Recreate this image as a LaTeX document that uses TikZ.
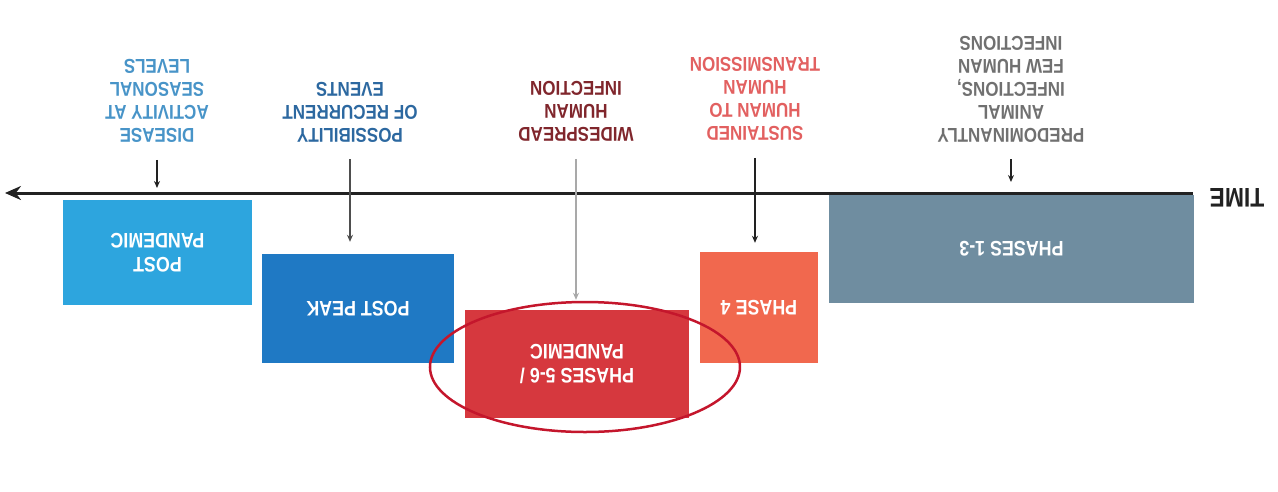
\documentclass[tikz,border=0pt]{standalone}
\usepackage{fontspec}
\newfontfamily\lblfont{Liberation Sans}[FakeStretch=0.85]
\usetikzlibrary{arrows.meta}
\definecolor{colEarly}{RGB}{111,141,160}
\definecolor{colFour}{RGB}{241,104,78}
\definecolor{colPandemic}{RGB}{214,56,62}
\definecolor{colPeak}{RGB}{31,121,196}
\definecolor{colPost}{RGB}{45,165,222}
\definecolor{colRing}{RGB}{196,22,44}
\definecolor{colTxtGrey}{RGB}{112,112,112}
\definecolor{colTxtSalmon}{RGB}{226,96,96}
\definecolor{colTxtMaroon}{RGB}{128,38,44}
\definecolor{colTxtBlue}{RGB}{44,104,160}
\definecolor{colTxtSky}{RGB}{72,148,200}
\definecolor{colAxis}{RGB}{34,34,34}
\tikzset{
  phasebox/.style={fill=#1,text=white,inner sep=0pt,align=center,
    font=\lblfont\bfseries\fontsize{21}{24}\selectfont},
  phaselabel/.style={text=#1,inner sep=1pt,align=center,
    font=\lblfont\bfseries\fontsize{20}{23}\selectfont},
  pointer/.style={draw=#1,line width=1.2pt,shorten <=16pt,
    -{Stealth[length=7pt,width=6pt]}},
}
\begin{document}
\begin{tikzpicture}[x=1pt,y=1pt,rotate=180,transform shape]
\useasboundingbox (0,0) rectangle (1278,491);
\coordinate (t0) at (85,193);
\coordinate (t1) at (1273,193);
\node[phasebox=colEarly,minimum width=365pt,minimum height=108pt] (ph13) at (266.5,249) {PHASES 1-3};
\node[phasebox=colFour,minimum width=118pt,minimum height=111pt] (ph4) at (519,307.5) {PHASE 4};
\node[phasebox=colPandemic,minimum width=224pt,minimum height=108pt] (ph56) at (701,364) {PHASES 5-6 /\\PANDEMIC};
\node[phasebox=colPeak,minimum width=192pt,minimum height=109pt] (peak) at (920,308.5) {POST PEAK};
\node[phasebox=colPost,minimum width=189pt,minimum height=105pt] (post) at (1120.5,252.5) {POST\\PANDEMIC};
\draw[colRing,line width=2.5pt] (693,367) ellipse [x radius=155pt,y radius=65pt];
\draw[colAxis,line width=3pt,-{Stealth[length=16pt,width=14pt]}] (t0) -- (t1);
\node[text=colAxis,inner sep=0pt,font=\lblfont\bfseries\fontsize{27}{30}\selectfont] (time) at (41,198) {TIME};
\node[phaselabel=colTxtGrey] (predom) at (267,89) {PREDOMINANTLY\\ANIMAL\\INFECTIONS,\\FEW HUMAN\\INFECTIONS};
\node[phaselabel=colTxtSalmon] (sust) at (523,99) {SUSTAINED\\HUMAN TO\\HUMAN\\TRANSMISSION};
\node[phaselabel=colTxtMaroon] (wide) at (702,111.5) {WIDESPREAD\\HUMAN\\INFECTION};
\node[phaselabel=colTxtBlue] (poss) at (928,112) {POSSIBILITY\\OF RECURRENT\\EVENTS};
\node[phaselabel=colTxtSky] (dis) at (1121,101) {DISEASE\\ACTIVITY AT\\SEASONAL\\LEVELS};
\draw[pointer=colAxis,shorten >=11pt] (predom.north) -- (predom.north |- t0);
\draw[pointer=colAxis,shorten >=9pt] (sust.north) -- (sust.north |- ph4.south);
\draw[pointer=colTxtGrey!60,shorten >=10pt] (wide.north) -- (wide.north |- ph56.south);
\draw[pointer=colAxis!80,shorten >=12pt] (poss.north) -- (poss.north |- peak.south);
\draw[pointer=colAxis,shorten >=5pt] (dis.north) -- (dis.north |- t0);
\end{tikzpicture}
\end{document}
